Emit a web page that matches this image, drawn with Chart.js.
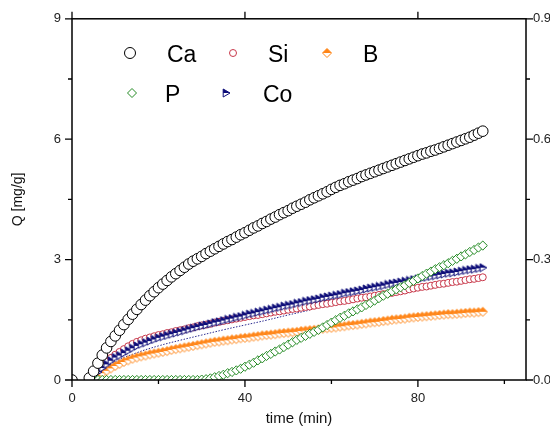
<!DOCTYPE html>
<html>
<head>
<meta charset="utf-8">
<script src="https://cdn.jsdelivr.net/npm/chart.js@4.4.1/dist/chart.umd.min.js"></script>
<style>
  html, body { margin: 0; padding: 0; background: #fff; overflow: hidden; }
  #wrap { width: 560px; height: 434px; }
</style>
</head>
<body>
<div id="wrap"><canvas id="chart" width="560" height="434"></canvas></div>
<script>
// time (min)
const time = [0,
  4, 5, 6, 7, 8, 9, 10, 11, 12, 13, 14,
  15, 16, 17, 18, 19, 20, 21, 22, 23, 24,
  25, 26, 27, 28, 29, 30, 31, 32, 33, 34,
  35, 36, 37, 38, 39, 40, 41, 42, 43, 44,
  45, 46, 47, 48, 49, 50, 51, 52, 53, 54,
  55, 56, 57, 58, 59, 60, 61, 62, 63, 64,
  65, 66, 67, 68, 69, 70, 71, 72, 73, 74,
  75, 76, 77, 78, 79, 80, 81, 82, 83, 84,
  85, 86, 87, 88, 89, 90, 91, 92, 93, 94, 95];

// Q [mg/g] per element
const qCa = [0,
  0.05, 0.22, 0.42, 0.62, 0.8, 0.96, 1.1, 1.24, 1.38, 1.51, 1.64,
  1.76, 1.88, 1.99, 2.1, 2.2, 2.3, 2.39, 2.48, 2.57, 2.65,
  2.73, 2.81, 2.89, 2.96, 3.02, 3.08, 3.15, 3.21, 3.27, 3.33,
  3.39, 3.45, 3.5, 3.56, 3.62, 3.67, 3.73, 3.79, 3.84, 3.9,
  3.95, 4.01, 4.06, 4.12, 4.17, 4.22, 4.28, 4.33, 4.38, 4.43,
  4.49, 4.54, 4.59, 4.64, 4.69, 4.75, 4.8, 4.85, 4.89, 4.94,
  4.98, 5.02, 5.07, 5.11, 5.15, 5.19, 5.23, 5.27, 5.31, 5.35,
  5.39, 5.43, 5.47, 5.51, 5.55, 5.59, 5.63, 5.66, 5.7, 5.73,
  5.77, 5.81, 5.85, 5.89, 5.93, 5.97, 6.01, 6.05, 6.1, 6.15, 6.2];

const qSi = [0,
  0.0, 0.12, 0.24, 0.36, 0.46, 0.55, 0.63, 0.7, 0.77, 0.84, 0.9,
  0.95, 0.99, 1.03, 1.06, 1.09, 1.12, 1.14, 1.17, 1.19, 1.22,
  1.24, 1.26, 1.29, 1.31, 1.34, 1.36, 1.38, 1.4, 1.43, 1.45,
  1.47, 1.49, 1.51, 1.53, 1.55, 1.57, 1.59, 1.61, 1.62, 1.64,
  1.66, 1.68, 1.7, 1.71, 1.73, 1.75, 1.77, 1.78, 1.8, 1.82,
  1.83, 1.85, 1.87, 1.89, 1.9, 1.92, 1.94, 1.96, 1.97, 1.99,
  2.01, 2.03, 2.05, 2.06, 2.08, 2.1, 2.12, 2.14, 2.15, 2.17,
  2.19, 2.21, 2.23, 2.26, 2.28, 2.3, 2.32, 2.33, 2.35, 2.37,
  2.39, 2.4, 2.42, 2.44, 2.45, 2.47, 2.49, 2.51, 2.52, 2.54, 2.56];

const qB = [0,
  0.0, 0.04, 0.1, 0.17, 0.23, 0.29, 0.35, 0.4, 0.45, 0.49, 0.53,
  0.56, 0.59, 0.61, 0.64, 0.66, 0.68, 0.7, 0.72, 0.75, 0.77,
  0.79, 0.81, 0.83, 0.85, 0.87, 0.89, 0.91, 0.93, 0.95, 0.96,
  0.98, 0.99, 1.01, 1.02, 1.04, 1.05, 1.06, 1.08, 1.09, 1.11,
  1.12, 1.13, 1.14, 1.16, 1.17, 1.18, 1.19, 1.2, 1.22, 1.23,
  1.24, 1.25, 1.26, 1.28, 1.29, 1.3, 1.31, 1.33, 1.34, 1.36,
  1.37, 1.38, 1.4, 1.41, 1.43, 1.44, 1.45, 1.47, 1.48, 1.5,
  1.51, 1.52, 1.53, 1.55, 1.56, 1.57, 1.58, 1.59, 1.6, 1.61,
  1.62, 1.63, 1.64, 1.64, 1.65, 1.66, 1.67, 1.68, 1.68, 1.69, 1.7];

const qP = [0,
  0, 0, 0, 0, 0, 0, 0, 0, 0, 0, 0,
  0, 0, 0, 0, 0, 0, 0, 0, 0, 0,
  0, 0, 0, 0, 0, 0.01, 0.02, 0.04, 0.07, 0.1,
  0.13, 0.17, 0.2, 0.24, 0.28, 0.33, 0.38, 0.43, 0.49, 0.54,
  0.6, 0.65, 0.71, 0.76, 0.82, 0.88, 0.94, 1.0, 1.05, 1.1,
  1.15, 1.2, 1.25, 1.31, 1.37, 1.43, 1.49, 1.55, 1.6, 1.66,
  1.71, 1.76, 1.81, 1.87, 1.92, 1.98, 2.04, 2.1, 2.15, 2.21,
  2.26, 2.31, 2.36, 2.42, 2.47, 2.53, 2.59, 2.65, 2.7, 2.76,
  2.81, 2.86, 2.91, 2.97, 3.02, 3.08, 3.13, 3.19, 3.24, 3.3, 3.35];

const qCo = [0,
  0.0, 0.1, 0.2, 0.3, 0.39, 0.48, 0.56, 0.61, 0.67, 0.73, 0.79,
  0.85, 0.89, 0.93, 0.97, 1.01, 1.05, 1.08, 1.11, 1.14, 1.17,
  1.2, 1.23, 1.26, 1.29, 1.32, 1.35, 1.37, 1.4, 1.43, 1.45,
  1.48, 1.51, 1.53, 1.56, 1.58, 1.61, 1.64, 1.66, 1.69, 1.71,
  1.74, 1.76, 1.79, 1.81, 1.84, 1.86, 1.88, 1.91, 1.93, 1.96,
  1.98, 2.0, 2.02, 2.05, 2.07, 2.09, 2.11, 2.13, 2.16, 2.18,
  2.2, 2.22, 2.24, 2.27, 2.29, 2.31, 2.33, 2.35, 2.38, 2.4,
  2.42, 2.44, 2.46, 2.48, 2.5, 2.52, 2.54, 2.56, 2.58, 2.6,
  2.62, 2.64, 2.66, 2.67, 2.69, 2.71, 2.73, 2.75, 2.76, 2.78, 2.8];

// thin dotted trace under the Co band
const fitTime = [5, 10, 15, 20, 25, 30, 35, 40, 45, 50, 55];
const fitQ = [0.05, 0.45, 0.68, 0.85, 0.99, 1.12, 1.25, 1.37, 1.49, 1.62, 1.74];

const xMajor = [0, 40, 80];
const xMinor = [20, 60, 100];
const yMajor = [0, 3, 6, 9];
const yMinor = [1.5, 4.5, 7.5];
const y2Major = [0, 0.3, 0.6, 0.9];
const y2Minor = [0.15, 0.45, 0.75];

const colCa = '#000000';
const colSi = '#c8384a';
const colB = '#ff8517';
const colP = '#238a23';
const colCo = '#0c0c78';

// marker images
function makeMarker(size, draw) {
  const c = document.createElement('canvas');
  c.width = size; c.height = size;
  const g = c.getContext('2d');
  draw(g, size / 2);
  return c;
}
function halfFill(g, path, color, h) {
  g.fillStyle = '#fff';
  path(); g.fill();
  g.save();
  g.beginPath(); g.rect(0, 0, h * 2, h); g.clip();
  g.fillStyle = color; path(); g.fill();
  g.restore();
  g.strokeStyle = color; g.lineWidth = 1; path(); g.stroke();
}
function diamond(g, h, r) {
  g.beginPath(); g.moveTo(h, h - r); g.lineTo(h + r, h); g.lineTo(h, h + r); g.lineTo(h - r, h); g.closePath();
}

const mkCa = makeMarker(14, (g, h) => {
  g.beginPath(); g.arc(h, h, 5.5, 0, Math.PI * 2);
  g.fillStyle = '#fff'; g.fill();
  g.strokeStyle = colCa; g.lineWidth = 1; g.stroke();
});
const mkSi = makeMarker(10, (g, h) => {
  g.beginPath(); g.arc(h, h, 3.5, 0, Math.PI * 2);
  g.fillStyle = '#fff'; g.fill();
  g.strokeStyle = colSi; g.lineWidth = 1; g.stroke();
});
const mkB = makeMarker(12, (g, h) => {
  halfFill(g, () => diamond(g, h, 4.5), colB, h);
});
const mkP = makeMarker(12, (g, h) => {
  diamond(g, h, 4.5);
  g.fillStyle = '#fff'; g.fill();
  g.strokeStyle = colP; g.lineWidth = 1; g.stroke();
});
const mkCo = makeMarker(10, (g, h) => {
  const r = 4;
  halfFill(g, () => {
    g.beginPath(); g.moveTo(h + r, h); g.lineTo(h - r * 0.7, h - r); g.lineTo(h - r * 0.7, h + r); g.closePath();
  }, colCo, h);
});

function pts(xs, ys) { return xs.map((x, i) => ({ x: x, y: ys[i] })); }

const series = [
  { label: 'Ca', data: qCa, marker: mkCa, order: 1,
    style: { pointStyle: 'circle', pointRadius: 5.3, pointBorderWidth: 1, pointBorderColor: colCa, pointBackgroundColor: '#fff' } },
  { label: 'Si', data: qSi, marker: mkSi, order: 4,
    style: { pointStyle: 'circle', pointRadius: 3.5, pointBorderWidth: 1, pointBorderColor: colSi, pointBackgroundColor: '#fff' } },
  { label: 'B', data: qB, marker: mkB, order: 5,
    style: { pointStyle: mkB, pointRadius: 5 } },
  { label: 'P', data: qP, marker: mkP, order: 2,
    style: { pointStyle: 'rectRot', pointRadius: 4.6, pointBorderWidth: 1, pointBorderColor: colP, pointBackgroundColor: '#fff' } },
  { label: 'Co', data: qCo, marker: mkCo, order: 3,
    style: { pointStyle: mkCo, pointRadius: 5 } }
];

const datasets = series.map(s => Object.assign({
  label: s.label,
  data: pts(time, s.data),
  showLine: false,
  order: s.order
}, s.style));
datasets.push({
  label: 'fit',
  data: pts(fitTime, fitQ),
  showLine: true,
  pointRadius: 0,
  borderColor: '#2a2a90',
  borderWidth: 1,
  borderDash: [1.5, 1.5],
  tension: 0.4,
  order: 6
});

// legend layout inside the plot
const legendLayout = [
  { mx: 130, tx: 167, my: 53, ty: 62 },
  { mx: 233, tx: 268, my: 53, ty: 62 },
  { mx: 327, tx: 363, my: 53, ty: 62 },
  { mx: 132, tx: 165, my: 93, ty: 102 },
  { mx: 226, tx: 263, my: 93, ty: 102 }
];

const framePlugin = {
  id: 'frame',
  afterDraw(chart) {
    const ctx = chart.ctx;
    const a = chart.chartArea;
    const sx = chart.scales.x, sy = chart.scales.y, sy2 = chart.scales.y2;
    ctx.save();
    ctx.strokeStyle = '#000';
    ctx.lineWidth = 1.5;
    ctx.strokeRect(a.left, a.top, a.right - a.left, a.bottom - a.top);
    ctx.lineWidth = 1.3;
    ctx.beginPath();
    xMajor.forEach(v => {
      const p = sx.getPixelForValue(v);
      ctx.moveTo(p, a.bottom); ctx.lineTo(p, a.bottom + 7);
      ctx.moveTo(p, a.top); ctx.lineTo(p, a.top - 7);
    });
    xMinor.forEach(v => {
      const p = sx.getPixelForValue(v);
      ctx.moveTo(p, a.bottom); ctx.lineTo(p, a.bottom + 4);
    });
    yMajor.forEach(v => {
      const p = sy.getPixelForValue(v);
      ctx.moveTo(a.left, p); ctx.lineTo(a.left - 7, p);
    });
    yMinor.forEach(v => {
      const p = sy.getPixelForValue(v);
      ctx.moveTo(a.left, p); ctx.lineTo(a.left - 4, p);
    });
    y2Major.forEach(v => {
      const p = sy2.getPixelForValue(v);
      ctx.moveTo(a.right, p); ctx.lineTo(a.right + 7, p);
    });
    y2Minor.forEach(v => {
      const p = sy2.getPixelForValue(v);
      ctx.moveTo(a.right, p); ctx.lineTo(a.right + 4, p);
    });
    ctx.stroke();

    // legend
    ctx.font = '23px "Liberation Sans", Arial, sans-serif';
    ctx.fillStyle = '#000';
    ctx.textBaseline = 'alphabetic';
    series.forEach((s, i) => {
      const l = legendLayout[i];
      ctx.drawImage(s.marker, Math.round(l.mx - s.marker.width / 2), Math.round(l.my - s.marker.height / 2));
      ctx.fillText(s.label, l.tx, l.ty);
    });
    ctx.restore();
  }
};

const tickFont = { family: '"Liberation Sans", Arial, sans-serif', size: 13 };

new Chart(document.getElementById('chart'), {
  type: 'scatter',
  data: { datasets: datasets },
  options: {
    responsive: false,
    devicePixelRatio: 1,
    animation: false,
    layout: { padding: { top: 17, left: 0, right: 0, bottom: 0 } },
    plugins: { legend: { display: false }, tooltip: { enabled: false } },
    scales: {
      x: {
        type: 'linear',
        min: 0, max: 105,
        grid: { display: false, drawTicks: false },
        border: { display: false },
        afterBuildTicks: s => { s.ticks = xMajor.map(v => ({ value: v })); },
        afterFit: s => { s.height = 54; },
        ticks: { padding: 11, color: '#222', font: tickFont, maxRotation: 0 },
        title: {
          display: true, text: 'time (min)', color: '#111',
          font: { family: '"Liberation Sans", Arial, sans-serif', size: 15 },
          padding: { top: 0, bottom: 6 }
        }
      },
      y: {
        type: 'linear', position: 'left',
        min: 0, max: 9,
        grid: { display: false, drawTicks: false },
        border: { display: false },
        afterBuildTicks: s => { s.ticks = yMajor.map(v => ({ value: v })); },
        afterFit: s => { s.width = 72; },
        ticks: { padding: 11, color: '#222', font: tickFont },
        title: {
          display: true, text: 'Q [mg/g]', color: '#111',
          font: { family: '"Liberation Sans", Arial, sans-serif', size: 14 },
          padding: { top: 10, bottom: 0 }
        }
      },
      y2: {
        type: 'linear', position: 'right',
        min: 0, max: 0.9,
        grid: { display: false, drawTicks: false },
        border: { display: false },
        afterBuildTicks: s => { s.ticks = y2Major.map(v => ({ value: v })); },
        afterFit: s => { s.width = 34; },
        ticks: { padding: 7, color: '#222', font: tickFont, callback: v => v.toFixed(1) }
      }
    }
  },
  plugins: [framePlugin]
});
</script>
</body>
</html>
